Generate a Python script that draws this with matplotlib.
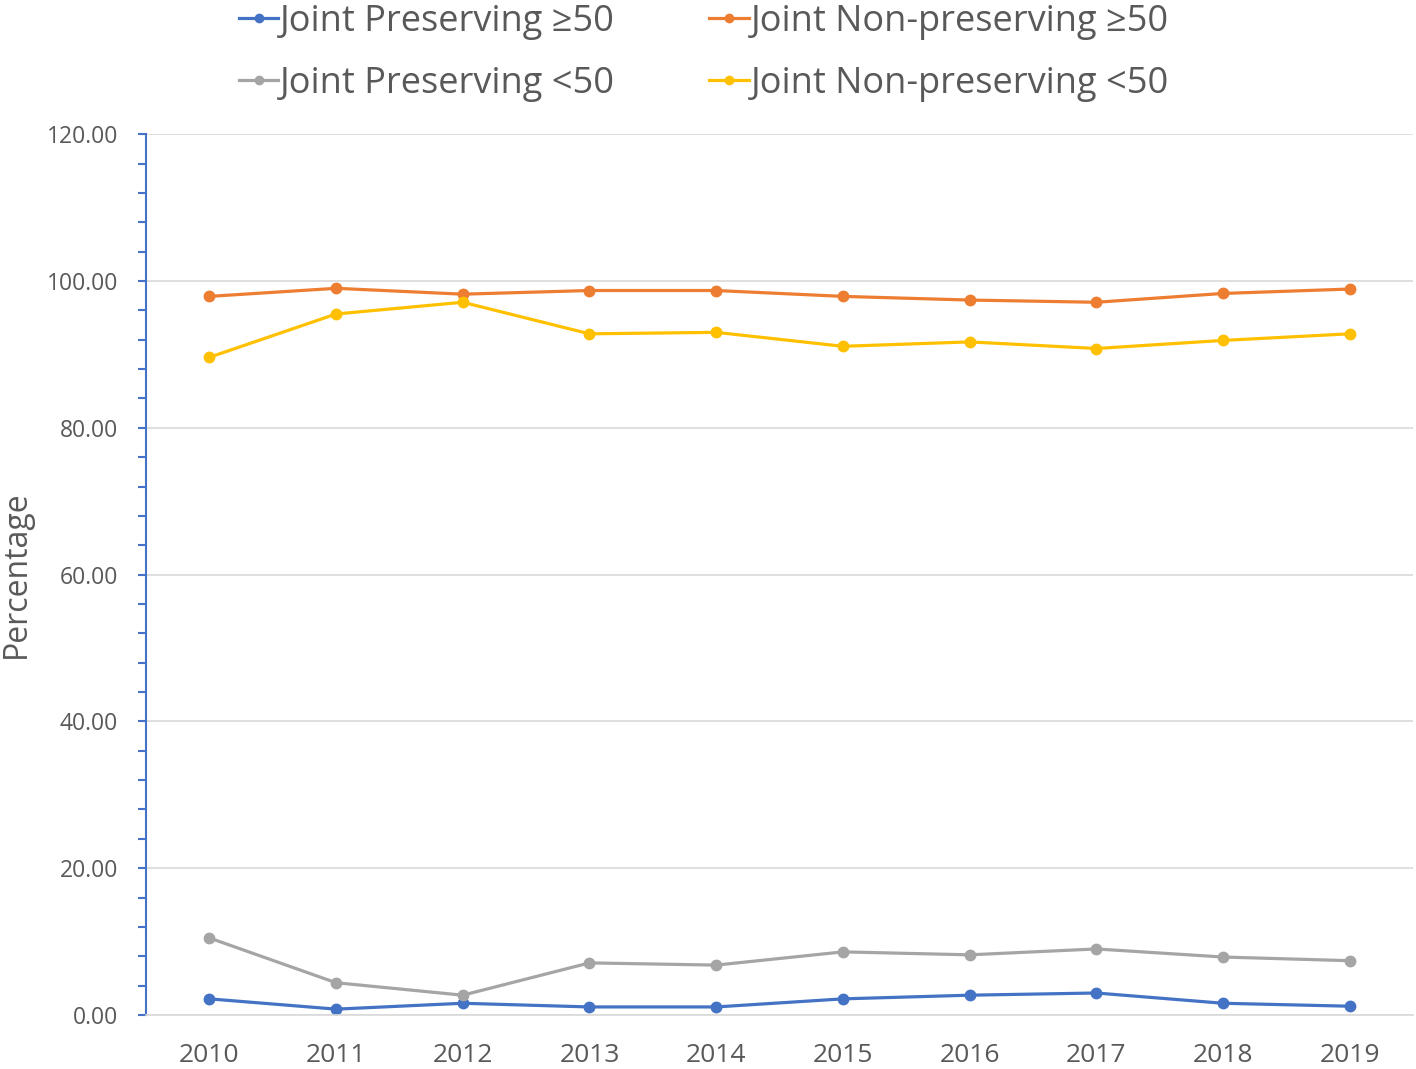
import numpy as np
import matplotlib.pyplot as plt
from matplotlib.ticker import MultipleLocator

plt.rcParams['font.family'] = ['Open Sans', 'DejaVu Sans']

years = ['2010', '2011', '2012', '2013', '2014', '2015', '2016', '2017', '2018', '2019']
jp_ge50 = [2.2, 0.8, 1.6, 1.1, 1.1, 2.2, 2.7, 3.0, 1.6, 1.2]
jnp_ge50 = [97.9, 99.0, 98.2, 98.7, 98.7, 97.9, 97.4, 97.1, 98.3, 98.9]
jp_lt50 = [10.5, 4.4, 2.7, 7.1, 6.8, 8.6, 8.2, 9.0, 7.9, 7.4]
jnp_lt50 = [89.6, 95.5, 97.1, 92.8, 93.0, 91.1, 91.7, 90.8, 91.9, 92.8]

series = [
    ('Joint Preserving ≥50', jp_ge50, '#4472C4'),
    ('Joint Non-preserving ≥50', jnp_ge50, '#ED7D31'),
    ('Joint Preserving <50', jp_lt50, '#A5A5A5'),
    ('Joint Non-preserving <50', jnp_lt50, '#FFC000'),
]

txt = '#595959'
fig = plt.figure(figsize=(14.16, 10.69), dpi=100)
ax = fig.add_axes([0.1031, 0.0505, 0.8948, 0.824])

x = np.arange(len(years))
lines = {}
for name, vals, col in series:
    lines[name], = ax.plot(x, vals, color=col, lw=2.3, marker='o', markersize=7.5, label=name)

ax.set_xlim(-0.5, len(years) - 0.5)
ax.set_ylim(0, 120)
ax.set_xticks(x)
ax.set_xticklabels(years)
ax.yaxis.set_major_locator(MultipleLocator(20))
ax.yaxis.set_minor_locator(MultipleLocator(4))
ax.yaxis.set_major_formatter(lambda v, p: f'{v:.2f}')
ax.grid(axis='y', color='#D9D9D9', lw=1.2)
ax.set_axisbelow(True)

for s in ['top', 'right']:
    ax.spines[s].set_visible(False)
ax.spines['left'].set_color('#4472C4')
ax.spines['left'].set_linewidth(1.5)
ax.spines['bottom'].set_color('#D9D9D9')
ax.spines['bottom'].set_linewidth(1.2)

ax.tick_params(axis='y', which='both', colors='#4472C4', length=6, width=1.5,
               labelcolor=txt, labelsize=16.5, pad=14)
ax.tick_params(axis='x', length=0, labelcolor=txt, labelsize=19, pad=20)
ax.set_ylabel('Percentage', fontsize=23, color=txt)
ax.yaxis.set_label_coords(-0.089, 0.5)

# column-wise fill: >=50 on top row, <50 on bottom row
order = ['Joint Preserving ≥50', 'Joint Preserving <50',
         'Joint Non-preserving ≥50', 'Joint Non-preserving <50']
fig.legend([lines[k] for k in order], order, loc='upper center',
           bbox_to_anchor=(0.497, 1.027), ncol=2, frameon=False, fontsize=26,
           labelcolor=txt, handlelength=1.1, handletextpad=0.05,
           columnspacing=2.6, labelspacing=0.72, markerscale=0.8)

fig.savefig('out.png', dpi=100)
